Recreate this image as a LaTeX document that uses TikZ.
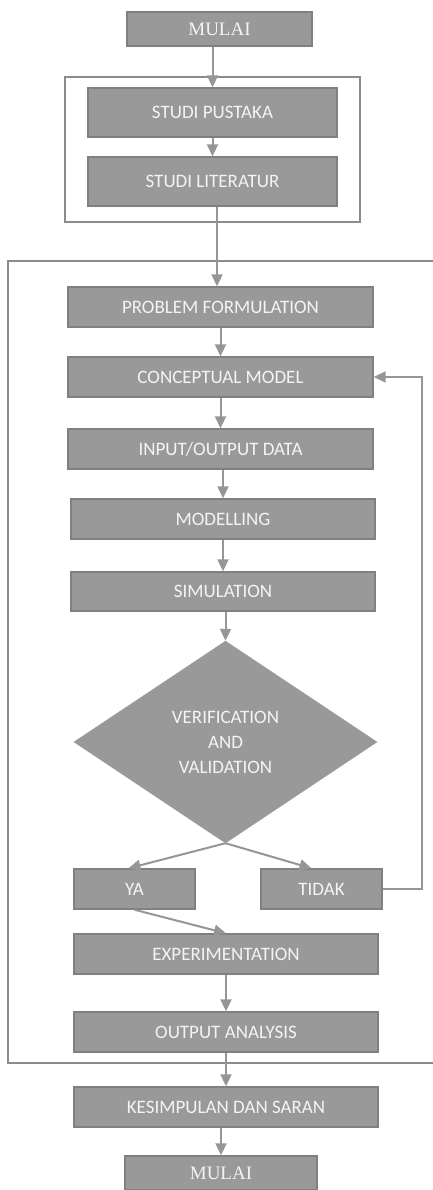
\documentclass[tikz,border=0pt]{standalone}
\usepackage{fontspec}
\setmainfont{Carlito}
\newfontfamily\mulaifont{Liberation Serif}
\usetikzlibrary{arrows.meta, positioning, shapes.geometric}
\definecolor{boxgray}{RGB}{153,153,153}
\definecolor{edgegray}{RGB}{128,128,128}
\definecolor{linegray}{RGB}{150,150,150}
\definecolor{framegray}{RGB}{140,140,140}
\definecolor{textwhite}{RGB}{244,244,244}

\begin{document}
\begin{tikzpicture}[
    x=1pt, y=-1pt,
    every node/.style={font=\fontsize{19}{25}\selectfont, text=textwhite, align=center, inner sep=0pt},
    box/.style={draw=edgegray, line width=1.4pt, fill=boxgray, minimum width=#1, minimum height=40pt},
    box/.default=305pt,
    decision/.style={diamond, draw=boxgray, fill=boxgray, minimum width=303pt, minimum height=202pt},
    frame/.style={draw=framegray, line width=1.6pt},
    arrow/.style={-{Triangle[length=12pt, width=11pt]}, draw=linegray, line width=2pt}
]
\useasboundingbox (0,0) rectangle (433,1190);
\clip (0,0) rectangle (433,1190);

% Frames
\draw[frame] (65,77) rectangle (360,222);
\draw[frame] (8,261) rectangle (480,1063);

% Nodes
\node[box=185pt, minimum height=34pt] (start) at (219.5,29) {\mulaifont MULAI};
\node[box=249pt, minimum height=49pt] (pustaka) at (212.5,112.5) {STUDI PUSTAKA};
\node[box=249pt, minimum height=49pt] (literatur) at (212.5,181.5) {STUDI LITERATUR};
\node[box] (problem) at (220.5,307) {PROBLEM FORMULATION};
\node[box] (concept) at (220.5,377) {CONCEPTUAL MODEL};
\node[box] (data) at (220.5,449) {INPUT/OUTPUT DATA};
\node[box=304pt] (model) at (223,519) {MODELLING};
\node[box=304pt, minimum height=39pt] (sim) at (223,591.5) {SIMULATION};
\node[decision] (verif) at (225.5,742) {VERIFICATION\\AND\\VALIDATION};
\node[box=121pt] (ya) at (134.5,889) {YA};
\node[box=121pt] (tidak) at (321.5,889) {TIDAK};
\node[box=304pt] (exper) at (226,954) {EXPERIMENTATION};
\node[box=304pt] (analysis) at (226,1032) {OUTPUT ANALYSIS};
\node[box=304pt] (kesimpulan) at (226,1107) {KESIMPULAN DAN SARAN};
\node[box=192pt, minimum height=34pt] (finish) at (221,1173) {\mulaifont MULAI};

% Arrows
\draw[arrow] (start.south -| pustaka) -- (pustaka.north);
\draw[arrow] (pustaka) -- (literatur);
\draw[arrow] (literatur.south -| 217,0) -- (problem.north -| 217,0);
\draw[arrow] (problem) -- (concept);
\draw[arrow] (concept) -- (data);
\draw[arrow] (data.south -| model) -- (model.north);
\draw[arrow] (model) -- (sim);
\draw[arrow] (sim.south -| verif) -- (verif.north);
\draw[arrow] (verif.south) -- ([xshift=-6pt]ya.north);
\draw[arrow] (verif.south) -- ([xshift=-10pt]tidak.north);
\draw[arrow] (ya.south) -- (exper.north);
\draw[arrow] (exper) -- (analysis);
\draw[arrow] (analysis) -- (kesimpulan);
\draw[arrow] (kesimpulan.south -| finish) -- (finish.north);
\draw[arrow] (tidak.east) -| (422,600) |- (concept.east);

\end{tikzpicture}
\end{document}
